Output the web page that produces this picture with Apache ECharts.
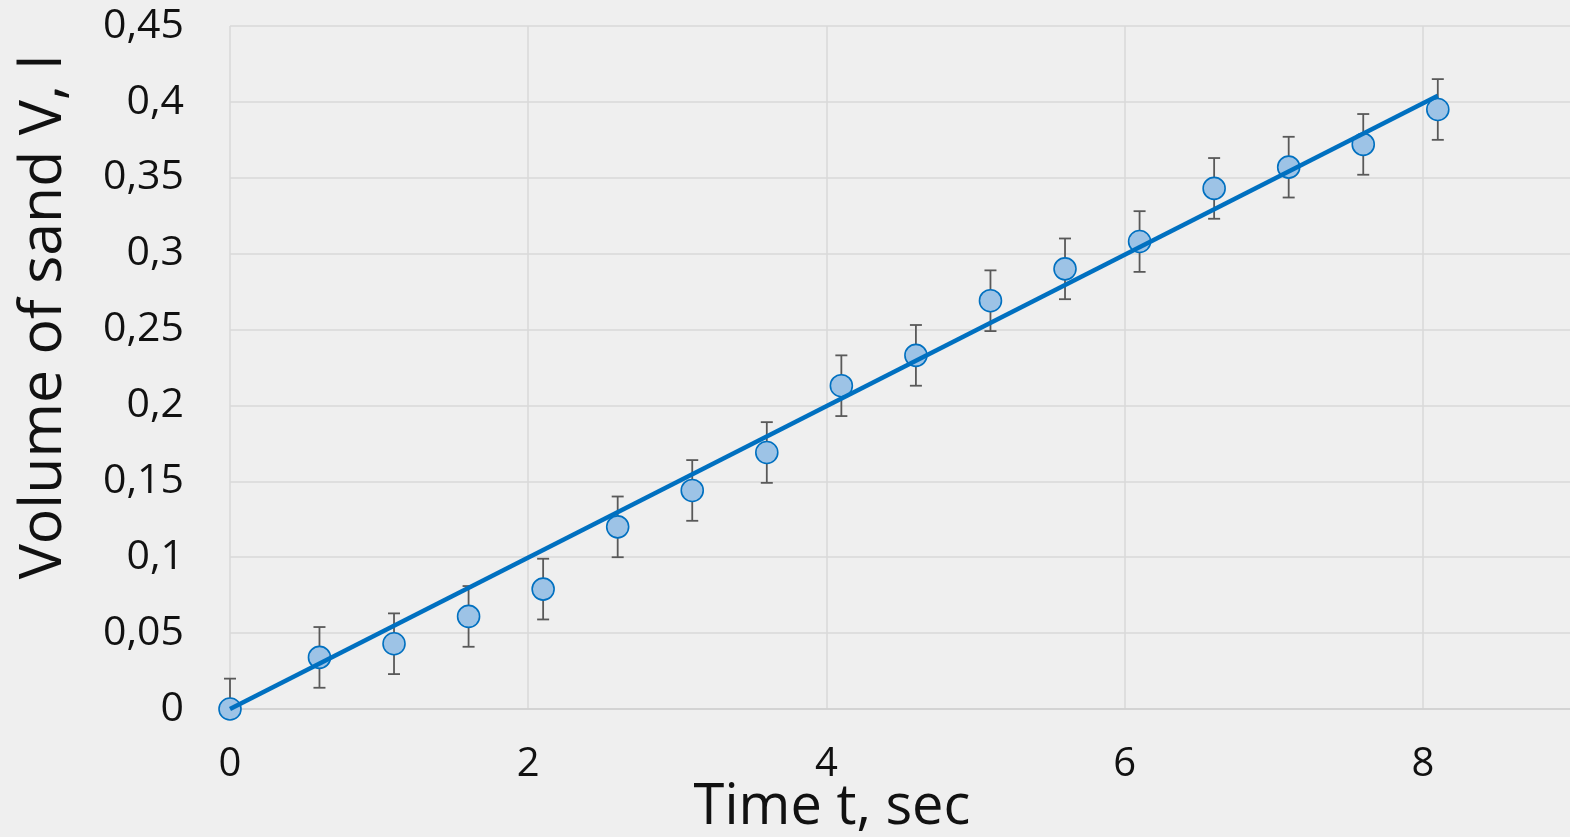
<!DOCTYPE html>
<html>
<head>
<meta charset="utf-8">
<script src="https://cdn.jsdelivr.net/npm/echarts@6/dist/echarts.min.js"></script>
<style>
  html, body { margin: 0; padding: 0; background: #efefef; }
  #chart { width: 1570px; height: 837px; }
</style>
</head>
<body>
<div id="chart"></div>
<script>
// Measured sand volume over time
const times = [0, 0.6, 1.1, 1.6, 2.1, 2.6, 3.1, 3.6, 4.1, 4.6, 5.1, 5.6, 6.1, 6.6, 7.1, 7.6, 8.1];
const volumes = [0, 0.034, 0.043, 0.061, 0.079, 0.12, 0.144, 0.169, 0.213, 0.233, 0.269, 0.29, 0.308, 0.343, 0.357, 0.372, 0.395];
const errorSize = 0.02;
// Linear fit end points
const fitTimes = [0, 8.1];
const fitVolumes = [0, 0.404];

const xTitle = 'Time t, sec';
const yTitle = 'Volume of sand V, l';

const FONT = '"Open Sans", "Noto Sans", sans-serif';

const points = times.map((t, i) => [t, volumes[i]]);
const fitLine = fitTimes.map((t, i) => [t, fitVolumes[i]]);
const errData = times.map((t, i) => [t, Math.max(0, volumes[i] - errorSize), volumes[i] + errorSize, volumes[i]]);

function fmt(v) {
  return String(Number(v.toFixed(2))).replace('.', ',');
}

const chart = echarts.init(document.getElementById('chart'));
chart.setOption({
  backgroundColor: '#efefef',
  animation: false,
  grid: { left: 230, right: -2, top: 26, bottom: 128, outerBoundsMode: 'none', containLabel: false },
  xAxis: {
    type: 'value', min: 0, max: 9, interval: 2,
    axisLine: { show: true, lineStyle: { color: '#cfcfcf', width: 1.5 } },
    axisTick: { show: false },
    splitLine: { show: true, lineStyle: { color: '#d9d9d9', width: 1.5 } },
    axisLabel: {
      color: '#111', fontFamily: FONT, fontSize: 40, margin: 36,
      showMaxLabel: false,
      formatter: v => (v % 2 === 0 ? fmt(v) : '')
    }
  },
  yAxis: {
    type: 'value', min: 0, max: 0.45, interval: 0.05,
    axisLine: { show: false },
    axisTick: { show: false },
    splitLine: { show: true, lineStyle: { color: '#d9d9d9', width: 1.5 } },
    axisLabel: {
      color: '#111', fontFamily: FONT, fontSize: 41, margin: 46,
      formatter: v => fmt(v)
    }
  },
  graphic: [
    {
      type: 'text', x: 832, y: 808,
      style: { text: xTitle, fill: '#111', font: '56px ' + FONT, textAlign: 'center', textVerticalAlign: 'middle' }
    },
    {
      type: 'text', x: 44, y: 317, rotation: Math.PI / 2,
      style: { text: yTitle, fill: '#111', font: '59px ' + FONT, textAlign: 'center', textVerticalAlign: 'middle' }
    }
  ],
  series: [
    {
      type: 'custom',
      data: errData,
      z: 2,
      renderItem: function (params, api) {
        const x = api.value(0);
        const lo = api.coord([x, api.value(1)]);
        const hi = api.coord([x, api.value(2)]);
        const cap = 6;
        const style = { stroke: '#595959', lineWidth: 1.8 };
        const children = [
          { type: 'line', shape: { x1: lo[0], y1: lo[1], x2: hi[0], y2: hi[1] }, style: style },
          { type: 'line', shape: { x1: hi[0] - cap, y1: hi[1], x2: hi[0] + cap, y2: hi[1] }, style: style }
        ];
        if (api.value(1) > 0) {
          children.push({ type: 'line', shape: { x1: lo[0] - cap, y1: lo[1], x2: lo[0] + cap, y2: lo[1] }, style: style });
        }
        return { type: 'group', children: children };
      }
    },
    {
      type: 'scatter',
      data: points,
      z: 3,
      symbol: 'circle',
      symbolSize: 22,
      itemStyle: { color: '#9dc3e6', borderColor: '#0070c0', borderWidth: 1.6, opacity: 1 }
    },
    {
      type: 'line',
      data: fitLine,
      z: 4,
      symbol: 'none',
      lineStyle: { color: '#0070c0', width: 4.5 }
    }
  ]
});
</script>
</body>
</html>
